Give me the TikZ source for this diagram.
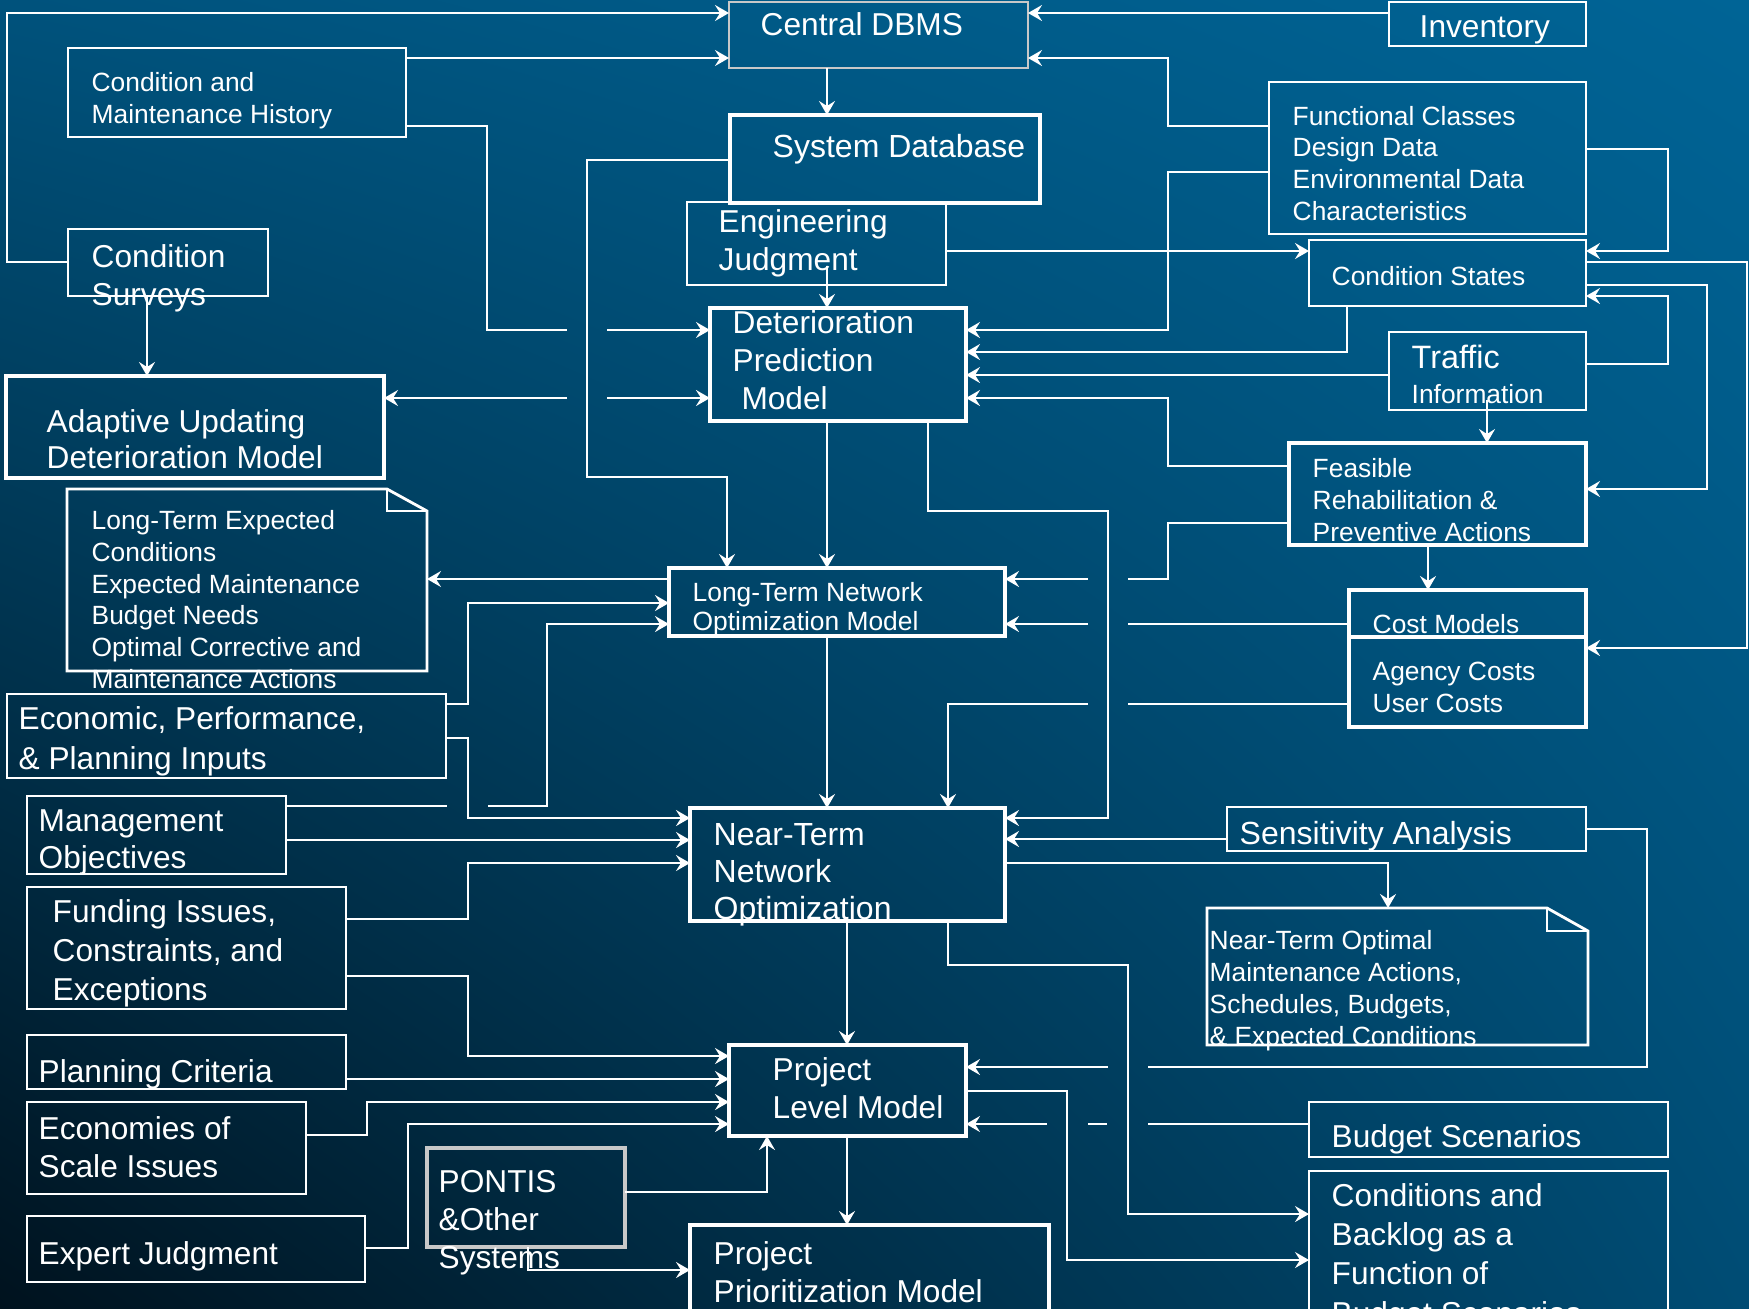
\documentclass[tikz,border=0pt]{standalone}
\usepackage{fontspec}
\setmainfont{Liberation Sans}
\usepackage{xcolor}
\definecolor{bgtopleft}{RGB}{0,82,124}
\definecolor{bgtopright}{RGB}{0,100,150}
\definecolor{bgbotleft}{RGB}{0,18,30}
\definecolor{bgbotright}{RGB}{0,76,116}
\definecolor{pmsgray}{RGB}{200,200,200}
\usetikzlibrary{arrows.meta, calc, fit, shadings}

\newcommand{\fsz}[2]{\fontsize{#1}{#2}\selectfont}

\begin{document}
\begin{tikzpicture}[x=0.01cm, y=-0.01cm,
  thinbox/.style={draw=white, line width=0.8pt, inner sep=0pt, outer sep=0pt},
  thickbox/.style={thinbox, line width=1.3pt},
  graybox/.style={thinbox, draw=pmsgray},
  docline/.style={draw=white, line width=0.8pt},
  conn/.style={draw=white, line width=0.6pt},
  arr/.style={conn, -{Stealth[length=1.4mm, width=1.6mm, inset=0.5mm]}},
  txt/.style={text=white, inner sep=0pt, anchor=base west, align=left},
]
% text nodes sit on the baseline of their last line

% === Background ===
\useasboundingbox (0,0) rectangle (1749,1308);
\clip (0,0) rectangle (1749,1308);
\shade[upper left=bgtopleft, upper right=bgtopright,
       lower left=bgbotleft, lower right=bgbotright] (0,0) rectangle (1749,1308);

% === Top: database and data sources ===
\node[graybox, fit={(729,2) (1028,68)}] (dbms) {};
\node[txt, font=\fsz{9}{11}] (dbmslbl) at (760,35) {Central DBMS};

\node[thinbox, fit={(1389,2) (1586,46)}] (inv) {};
\node[txt, font=\fsz{9}{11}] (invlbl) at (1419,37) {Inventory};

\node[thinbox, fit={(68,48) (406,137)}] (cmh) {};
\node[txt, font=\fsz{7.5}{8.9}] (cmhlbl) at (91,123) {Condition and\\Maintenance History};

\node[thickbox, fit={(730,115) (1040,203)}] (sysdb) {};
\node[txt, font=\fsz{9.1}{11}] (sysdblbl) at (772,157) {System Database};

\node[thinbox, fit={(1269,82) (1586,234)}] (func) {};
\node[txt, font=\fsz{7.5}{9}] (funclbl) at (1292,220)
     {Functional Classes\\Design Data\\Environmental Data\\Characteristics};

\node[thinbox, fit={(687,202) (946,285)}] (engj) {};
\node[txt, font=\fsz{9}{10.8}] (engjlbl) at (718,270) {Engineering\\Judgment};

\node[thinbox, fit={(68,229) (268,296)}] (csurv) {};
\node[txt, font=\fsz{9}{10.8}] (csurvlbl) at (91,305) {Condition\\Surveys};

\node[thinbox, fit={(1309,240) (1586,306)}] (cstat) {};
\node[txt, font=\fsz{7.5}{9}] (cstatlbl) at (1331,285) {Condition States};

% === Deterioration models ===
\node[thickbox, fit={(710,308) (966,421)}] (dpm) {};
\node[txt, font=\fsz{9}{10.8}] (dpmlbl) at (732,409) {Deterioration\\Prediction\\\hspace{2.5pt}Model};

\node[thinbox, fit={(1389,332) (1586,410)}] (traf) {};
\node[txt, font=\fsz{9.2}{10}] (traflbl) at (1411,368) {Traffic};
\node[txt, font=\fsz{7.5}{9}] (trafinfo) at (1411,403) {Information};

\node[thickbox, fit={(6,376) (384,478)}] (adapt) {};
\node[txt, font=\fsz{9}{10}] (adaptlbl) at (46,468) {Adaptive Updating\\Deterioration Model};

\node[thickbox, fit={(1289,443) (1586,545)}] (feas) {};
\node[txt, font=\fsz{7.5}{9.1}] (feaslbl) at (1312,541)
     {Feasible\\Rehabilitation \&\\Preventive Actions};

% === Long-term network level ===
\node[inner sep=0pt, outer sep=0pt, fit={(67,489) (427,671)}] (ltdoc) {};
\draw[docline] (ltdoc.south west) -- (ltdoc.north west) -- ($(ltdoc.north east)+(-40,0)$)
      -- ($(ltdoc.north east)+(0,22)$) -- (ltdoc.south east) -- cycle;
\draw[docline] ($(ltdoc.north east)+(-40,0)$) -- ($(ltdoc.north east)+(-40,22)$)
      -- ($(ltdoc.north east)+(0,22)$);
\node[txt, font=\fsz{7.5}{9}] (ltdoclbl) at (91,688)
     {Long-Term Expected\\Conditions\\Expected Maintenance\\Budget Needs\\Optimal Corrective and\\Maintenance Actions};

\node[thickbox, fit={(669,568) (1005,636)}] (ltnet) {};
\node[txt, font=\fsz{7.5}{8}] (ltnetlbl) at (692,630) {Long-Term Network\\Optimization Model};

\node[thickbox, fit={(1349,590) (1586,727)}] (cost) {};
\draw[thickbox] (cost.west |- 0,637) -- (cost.east |- 0,637);
\node[txt, font=\fsz{7.5}{9}] (costlbl) at (1372,633) {Cost Models};
\node[txt, font=\fsz{7.5}{9.1}] (costitems) at (1372,712) {Agency Costs\\User Costs};

\node[thinbox, fit={(7,694) (446,778)}] (econ) {};
\node[txt, font=\fsz{9}{11.1}] (econlbl) at (18,769) {Economic, Performance,\\\& Planning Inputs};

\node[thinbox, fit={(27,796) (286,874)}] (mgmt) {};
\node[txt, font=\fsz{9}{10.5}] (mgmtlbl) at (38,868) {Management\\Objectives};

% === Near-term network level ===
\node[thinbox, fit={(1227,807) (1586,851)}] (sens) {};
\node[txt, font=\fsz{9.1}{11}] (senslbl) at (1239,844) {Sensitivity Analysis};

\node[thickbox, fit={(690,808) (1005,921)}] (ntnet) {};
\node[txt, font=\fsz{9.1}{10.5}] (ntnetlbl) at (713,919) {Near-Term\\Network\\Optimization};

\node[thinbox, fit={(27,887) (346,1009)}] (fund) {};
\node[txt, font=\fsz{9}{11}] (fundlbl) at (52,1000) {Funding Issues,\\Constraints, and\\Exceptions};

\node[inner sep=0pt, outer sep=0pt, fit={(1207,908) (1588,1045)}] (ntdoc) {};
\draw[docline] (ntdoc.south west) -- (ntdoc.north west) -- ($(ntdoc.north east)+(-41,0)$)
      -- ($(ntdoc.north east)+(0,23)$) -- (ntdoc.south east) -- cycle;
\draw[docline] ($(ntdoc.north east)+(-41,0)$) -- ($(ntdoc.north east)+(-41,23)$)
      -- ($(ntdoc.north east)+(0,23)$);
\node[txt, font=\fsz{7.5}{9.1}] (ntdoclbl) at (1209,1045)
     {Near-Term Optimal\\Maintenance Actions,\\Schedules, Budgets,\\\& Expected Conditions};

% === Project level ===
\node[thinbox, fit={(27,1035) (346,1089)}] (plan) {};
\node[txt, font=\fsz{9}{10}] (planlbl) at (38,1082) {Planning Criteria};

\node[thickbox, fit={(729,1045) (966,1136)}] (projl) {};
\node[txt, font=\fsz{9}{10.8}] (projllbl) at (772,1118) {Project\\Level Model};

\node[thinbox, fit={(27,1102) (306,1194)}] (econs) {};
\node[txt, font=\fsz{9}{10.8}] (econslbl) at (38,1177) {Economies of\\Scale Issues};

\node[thinbox, fit={(1309,1102) (1668,1157)}] (budg) {};
\node[txt, font=\fsz{9}{10}] (budglbl) at (1331,1147) {Budget Scenarios};

\node[thinbox, fit={(1309,1171) (1668,1340)}] (cond) {};
\node[txt, font=\fsz{9}{11.1}] (condlbl) at (1331,1324)
     {Conditions and\\Backlog as a\\Function of\\Budget Scenarios};

\node[graybox, line width=1.4pt, fit={(427,1148) (625,1247)}] (pontis) {};
\node[txt, font=\fsz{9}{10.7}] (pontislbl) at (438,1268) {PONTIS\\\&Other\\Systems};

\node[thinbox, fit={(27,1216) (365,1282)}] (expj) {};
\node[txt, font=\fsz{9}{10}] (expjlbl) at (38,1264) {Expert Judgment};

\node[thickbox, fit={(690,1225) (1049,1340)}] (prio) {};
\node[txt, font=\fsz{9}{10.8}] (priolbl) at (713,1302) {Project\\Prioritization Model};

% === Line breaks where connectors cross ===
\coordinate (gA1) at (567,330);  \coordinate (gA2) at (607,330);
\coordinate (gB1) at (567,398);  \coordinate (gB2) at (607,398);
\coordinate (gC1) at (1128,579); \coordinate (gC2) at (1088,579);
\coordinate (gD1) at (1128,624); \coordinate (gD2) at (1088,624);
\coordinate (gE1) at (1128,704); \coordinate (gE2) at (1088,704);
\coordinate (gF1) at (447,806);  \coordinate (gF2) at (488,806);
\coordinate (gG1) at (1148,1067); \coordinate (gG2) at (1108,1067);
\coordinate (gH1) at (1148,1124); \coordinate (gH2) at (1107,1124);
\coordinate (gH3) at (1088,1124); \coordinate (gH4) at (1047,1124);
\coordinate (ejdrop) at (827,266);
\coordinate (trdrop) at (1487,400);

% === Connectors: upper part ===
\draw[arr] (csurv.west |- 0,262) -- (7,262) -- (7,13) -- (dbms.west |- 0,13);
\draw[arr] (cmh.east |- 0,58) -- (dbms.west |- 0,58);
\draw[conn] (cmh.east |- 0,126) -- (487,126) -- (487,330) -- (gA1);
\draw[arr] (gA2) -- (dpm.west |- gA2);
\draw[arr] (gB1) -- (adapt.east |- gB1);
\draw[arr] (gB2) -- (dpm.west |- gB2);
\draw[arr] (csurv.south -| 147,0) -- (adapt.north -| 147,0);
\draw[arr] (sysdb.west |- 0,160) -- (587,160) -- (587,477) -- (727,477) -- (ltnet.north -| 727,0);
\draw[arr] (dbms.south -| 827,0) -- (sysdb.north -| 827,0);
\draw[arr] (ejdrop) -- (dpm.north -| ejdrop);
\draw[arr] (engj.east |- 0,251) -- (cstat.west |- 0,251);
\draw[arr] (inv.west |- 0,13) -- (dbms.east |- 0,13);
\draw[arr] (func.west |- 0,126) -- (1168,126) -- (1168,58) -- (dbms.east |- 0,58);
\draw[arr] (func.west |- 0,172) -- (1168,172) -- (1168,330) -- (dpm.east |- 0,330);
\draw[arr] (func.east |- 0,149) -- (1668,149) -- (1668,251) -- (cstat.east |- 0,251);
\draw[arr] (cstat.south -| 1347,0) -- (1347,352) -- (dpm.east |- 0,352);
\draw[arr] (cstat.east |- 0,262) -- (1747,262) -- (1747,648) -- (cost.east |- 0,648);
\draw[arr] (cstat.east |- 0,285) -- (1707,285) -- (1707,489) -- (feas.east |- 0,489);
\draw[arr] (traf.east |- 0,364) -- (1668,364) -- (1668,296) -- (cstat.east |- 0,296);
\draw[arr] (traf.west |- 0,375) -- (dpm.east |- 0,375);
\draw[arr] (trdrop) -- (feas.north -| trdrop);
\draw[arr] (feas.west |- 0,466) -- (1168,466) -- (1168,398) -- (dpm.east |- 0,398);

% === Connectors: network level ===
\draw[conn] (feas.west |- 0,523) -- (1168,523) -- (1168,579) -- (gC1);
\draw[arr] (gC2) -- (ltnet.east |- gC2);
\draw[arr] (feas.south -| 1428,0) -- (cost.north -| 1428,0);
\draw[conn] (cost.west |- gD1) -- (gD1);
\draw[arr] (gD2) -- (ltnet.east |- gD2);
\draw[conn] (cost.west |- gE1) -- (gE1);
\draw[arr] (gE2) -- (948,704) -- (ntnet.north -| 948,0);
\draw[arr] (dpm.south -| 928,0) -- (928,511) -- (1108,511) -- (1108,818) -- (ntnet.east |- 0,818);
\draw[arr] (dpm.south -| 827,0) -- (ltnet.north -| 827,0);
\draw[arr] (ltnet.west |- 0,579) -- (ltdoc.east |- 0,579);
\draw[arr] (econ.east |- 0,704) -- (468,704) -- (468,603) -- (ltnet.west |- 0,603);
\draw[arr] (econ.east |- 0,738) -- (468,738) -- (468,818) -- (ntnet.west |- 0,818);
\draw[conn] (mgmt.east |- gF1) -- (gF1);
\draw[arr] (gF2) -- (547,806) -- (547,624) -- (ltnet.west |- 0,624);
\draw[arr] (mgmt.east |- 0,840) -- (ntnet.west |- 0,840);
\draw[arr] (fund.east |- 0,919) -- (468,919) -- (468,863) -- (ntnet.west |- 0,863);
\draw[arr] (ltnet.south -| 827,0) -- (ntnet.north -| 827,0);
\draw[arr] (sens.west |- 0,839) -- (ntnet.east |- 0,839);
\draw[arr] (ntnet.east |- 0,863) -- (1388,863) -- (ntdoc.north -| 1388,0);

% === Connectors: project level ===
\draw[arr] (fund.east |- 0,976) -- (468,976) -- (468,1056) -- (projl.west |- 0,1056);
\draw[arr] (plan.east |- 0,1079) -- (projl.west |- 0,1079);
\draw[arr] (econs.east |- 0,1135) -- (367,1135) -- (367,1102) -- (projl.west |- 0,1102);
\draw[arr] (expj.east |- 0,1248) -- (408,1248) -- (408,1124) -- (projl.west |- 0,1124);
\draw[arr] (pontis.east |- 0,1192) -- (767,1192) -- (projl.south -| 767,0);
\draw[arr] (pontis.south -| 528,0) -- (528,1270) -- (prio.west |- 0,1270);
\draw[arr] (ntnet.south -| 847,0) -- (projl.north -| 847,0);
\draw[arr] (projl.south -| 847,0) -- (prio.north -| 847,0);
\draw[conn] (sens.east |- 0,829) -- (1647,829) -- (1647,1067) -- (gG1);
\draw[arr] (gG2) -- (projl.east |- gG2);
\draw[conn] (budg.west |- gH1) -- (gH1);
\draw[conn] (gH2) -- (gH3);
\draw[arr] (gH4) -- (projl.east |- gH4);
\draw[arr] (ntnet.south -| 948,0) -- (948,965) -- (1128,965) -- (1128,1214) -- (cond.west |- 0,1214);
\draw[arr] (projl.east |- 0,1091) -- (1067,1091) -- (1067,1260) -- (cond.west |- 0,1260);

\end{tikzpicture}
\end{document}
